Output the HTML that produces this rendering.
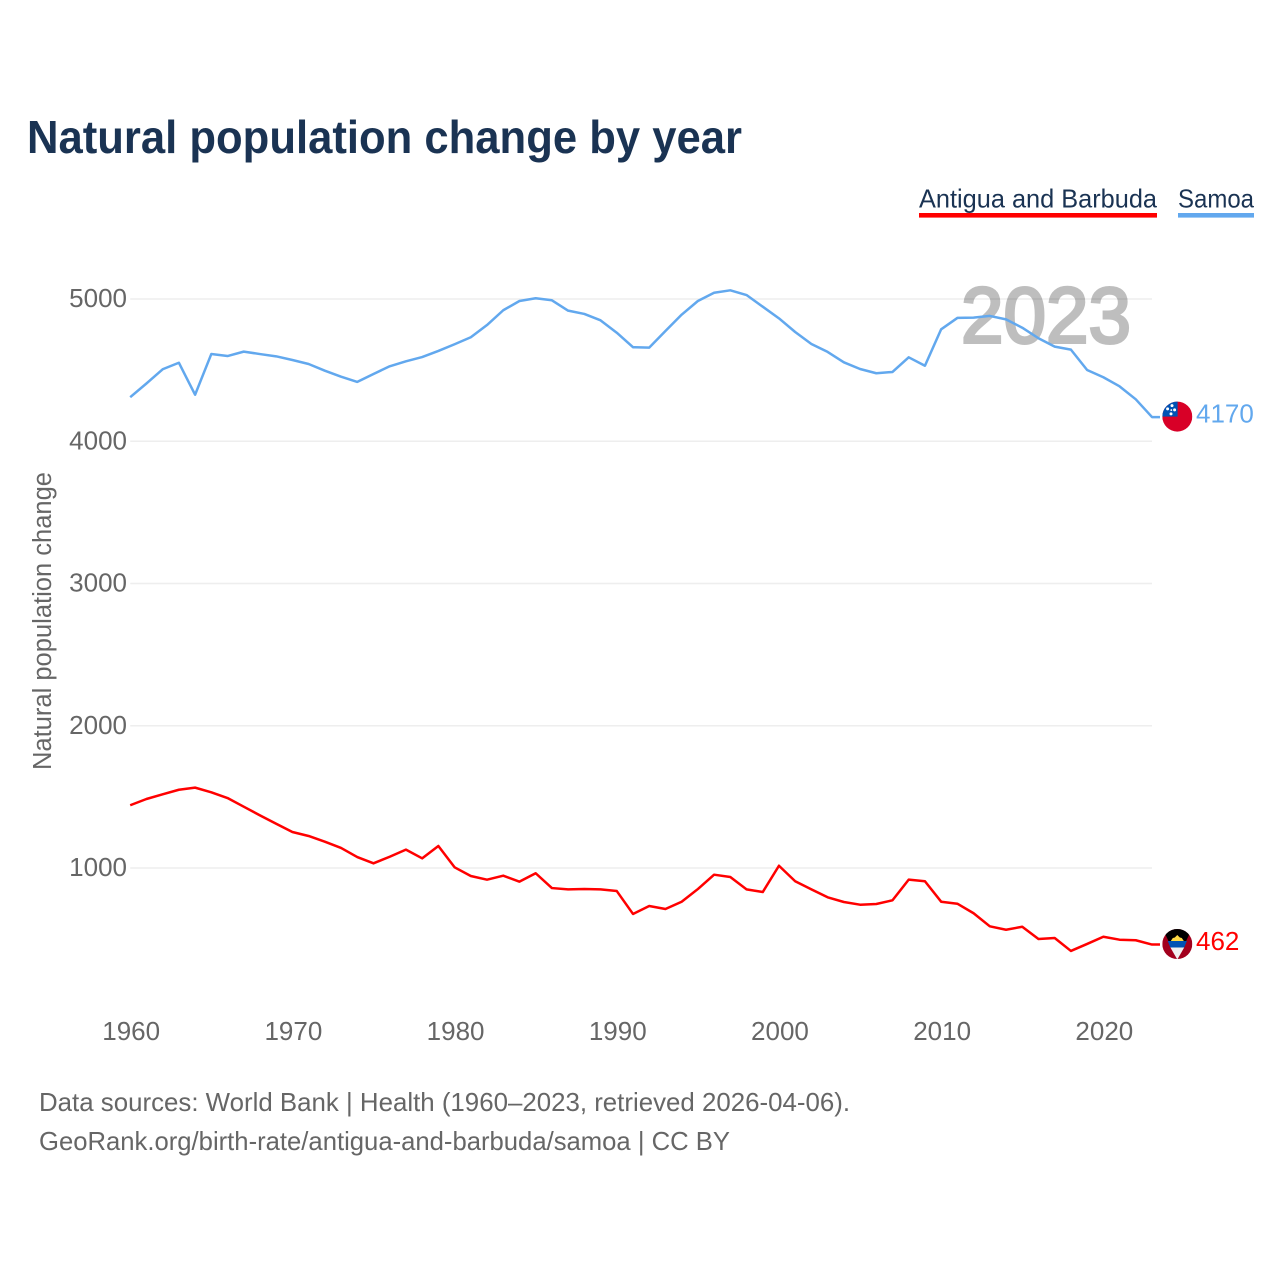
<!DOCTYPE html>
<html lang="en">
<head>
<meta charset="utf-8">
<title>Natural population change by year</title>
<style>
html,body{margin:0;padding:0;background:#fff;}
svg{display:block;font-family:"Liberation Sans",sans-serif;}
</style>
</head>
<body>
<svg id="chart" xmlns="http://www.w3.org/2000/svg" width="1280" height="1280" viewBox="0 0 1280 1280">
  <defs>
    <clipPath id="flag-clip"><circle cx="0" cy="0" r="15"/></clipPath>
  </defs>
  <rect x="0" y="0" width="1280" height="1280" fill="#ffffff"/>
  <text x="27" y="153" font-size="46" font-weight="700" fill="#1a3353" textLength="715" lengthAdjust="spacingAndGlyphs">Natural population change by year</text>

  <g>
    <g>
      <text x="919" y="207.5" font-size="26" fill="#1a3353" textLength="238" lengthAdjust="spacingAndGlyphs">Antigua and Barbuda</text>
      <rect x="919" y="213" width="238" height="4.6" fill="#ff0000"/>
    </g>
    <g>
      <text x="1178" y="207.5" font-size="26" fill="#1a3353" textLength="76" lengthAdjust="spacingAndGlyphs">Samoa</text>
      <rect x="1178" y="213" width="76" height="4.6" fill="#62a8ee"/>
    </g>
  </g>

  <g id="grid"></g>
  <g id="y-ticks"></g>
  <g id="x-ticks"></g>
  <text transform="translate(51,621) rotate(-90)" text-anchor="middle" font-size="25.5" fill="#666666" textLength="298" lengthAdjust="spacingAndGlyphs">Natural population change</text>

  <g opacity="0.25">
    <text x="961" y="342.5" font-size="79" font-weight="400" fill="#000000" stroke="#000000" stroke-width="3" textLength="170" lengthAdjust="spacingAndGlyphs">2023</text>
  </g>

  <g id="series"></g>

  <g id="flag-samoa">
    <g clip-path="url(#flag-clip)">
      <rect x="-15" y="-16" width="30" height="32" fill="#d80027"/>
      <rect x="-15" y="-16" width="15.3" height="16" fill="#0052b4"/>
      <circle cx="-5.3" cy="-11" r="1.5" fill="#fff"/>
      <circle cx="-9.7" cy="-7.7" r="1.5" fill="#fff"/>
      <circle cx="-2.7" cy="-6.7" r="1.5" fill="#fff"/>
      <circle cx="-6" cy="-6.5" r="0.9" fill="#fff"/>
      <circle cx="-6.3" cy="-2.7" r="1.5" fill="#fff"/>
    </g>
  </g>
  <g id="flag-antigua">
    <g clip-path="url(#flag-clip)">
      <rect x="-15" y="-16" width="30" height="32" fill="#a2001d"/>
      <polygon points="-15,-16 15,-16 0,15.5" fill="#000000"/>
      <polygon points="-6.5,-3 -4.5,-6 -2.5,-6.5 0,-9 2.5,-6.5 4.5,-6 6.5,-3" fill="#ffda44"/>
      <polygon points="-9.6,-3 9.6,-3 6.9,3.5 -6.9,3.5" fill="#0052b4"/>
      <polygon points="-6.9,3.5 6.9,3.5 0,15.5" fill="#f0f0f0"/>
    </g>
  </g>
  <g id="end-labels"></g>

  <text x="39" y="1111" font-size="26" fill="#666666" textLength="811" lengthAdjust="spacingAndGlyphs">Data sources: World Bank | Health (1960–2023, retrieved 2026-04-06).</text>
  <text x="39" y="1150" font-size="26" fill="#666666" textLength="691" lengthAdjust="spacingAndGlyphs">GeoRank.org/birth-rate/antigua-and-barbuda/samoa | CC BY</text>
</svg>
<script>
const firstYear = 1960;
const lastYear = 2023;
const yTickValues = [1000, 2000, 3000, 4000, 5000];
const xTickYears = [1960, 1970, 1980, 1990, 2000, 2010, 2020];
const samoaValues = [4310,4406,4506,4552,4327,4613,4599,4630,4613,4597,4571,4543,4496,4454,4417,4473,4527,4562,4592,4635,4682,4731,4817,4921,4986,5005,4991,4918,4895,4850,4763,4661,4658,4775,4890,4986,5044,5061,5028,4946,4864,4768,4684,4628,4555,4508,4478,4487,4590,4531,4787,4867,4869,4881,4857,4798,4724,4665,4644,4501,4450,4386,4295,4170];
const antiguaValues = [1441,1485,1518,1550,1565,1532,1492,1431,1370,1311,1253,1225,1185,1141,1077,1033,1079,1129,1068,1155,1005,944,918,946,904,963,859,850,852,850,838,677,733,712,763,852,953,937,850,831,1016,907,850,794,761,742,747,773,918,907,763,749,682,590,566,587,501,508,417,466,517,496,492,462];

const SVG_NS = 'http://www.w3.org/2000/svg';
const xLeft = 130.2, xRight = 1152, yAtZero = 1010.25, pxPerUnit = 0.14225;
function xScale(year) { return xLeft + (year - firstYear) * (xRight - xLeft) / (lastYear - firstYear); }
function yScale(value) { return yAtZero - value * pxPerUnit; }

const gridGroup = document.getElementById('grid');
const yTickGroup = document.getElementById('y-ticks');
const xTickGroup = document.getElementById('x-ticks');
const seriesGroup = document.getElementById('series');
const endLabelGroup = document.getElementById('end-labels');

yTickValues.forEach(function (value) {
  const line = document.createElementNS(SVG_NS, 'line');
  
  
  line.setAttribute('x1', xLeft);
  line.setAttribute('x2', xRight);
  line.setAttribute('y1', yScale(value));
  line.setAttribute('y2', yScale(value));
  line.setAttribute('stroke', '#eeeeee');
  line.setAttribute('stroke-width', '1.5');
  gridGroup.appendChild(line);

  const label = document.createElementNS(SVG_NS, 'text');
  
  
  label.setAttribute('x', 127);
  label.setAttribute('y', yScale(value) + 8);
  label.setAttribute('text-anchor', 'end');
  label.setAttribute('font-size', '26');
  label.setAttribute('fill', '#666666');
  label.textContent = value;
  yTickGroup.appendChild(label);
});

xTickYears.forEach(function (year) {
  const label = document.createElementNS(SVG_NS, 'text');
  
  
  label.setAttribute('x', xScale(year) + 1);
  label.setAttribute('y', 1040);
  label.setAttribute('text-anchor', 'middle');
  label.setAttribute('font-size', '26');
  label.setAttribute('fill', '#666666');
  label.textContent = year;
  xTickGroup.appendChild(label);
});

function drawSeries(values, color, seriesName, flagId) {
  const lastY = yScale(values[values.length - 1]);
  const coords = values.map(function (value, i) {
    return xScale(firstYear + i).toFixed(2) + ',' + yScale(value).toFixed(2);
  });
  coords.push((xRight + 8) + ',' + lastY.toFixed(2));

  const path = document.createElementNS(SVG_NS, 'polyline');
  
  
  path.setAttribute('points', coords.join(' '));
  path.setAttribute('fill', 'none');
  path.setAttribute('stroke', color);
  path.setAttribute('stroke-width', '2.5');
  path.setAttribute('stroke-linejoin', 'round');
  seriesGroup.appendChild(path);

  document.getElementById(flagId).setAttribute('transform', 'translate(1177.3,' + (lastY - 0.5) + ')');

  const endLabel = document.createElementNS(SVG_NS, 'text');
  
  
  endLabel.setAttribute('x', 1196);
  endLabel.setAttribute('y', lastY + 5.5);
  endLabel.setAttribute('font-size', '26');
  endLabel.setAttribute('fill', color);
  endLabel.textContent = values[values.length - 1];
  endLabelGroup.appendChild(endLabel);
}

drawSeries(samoaValues, '#62a8ee', 'samoa', 'flag-samoa');
drawSeries(antiguaValues, '#ff0000', 'antigua-and-barbuda', 'flag-antigua');
</script>
</body>
</html>
